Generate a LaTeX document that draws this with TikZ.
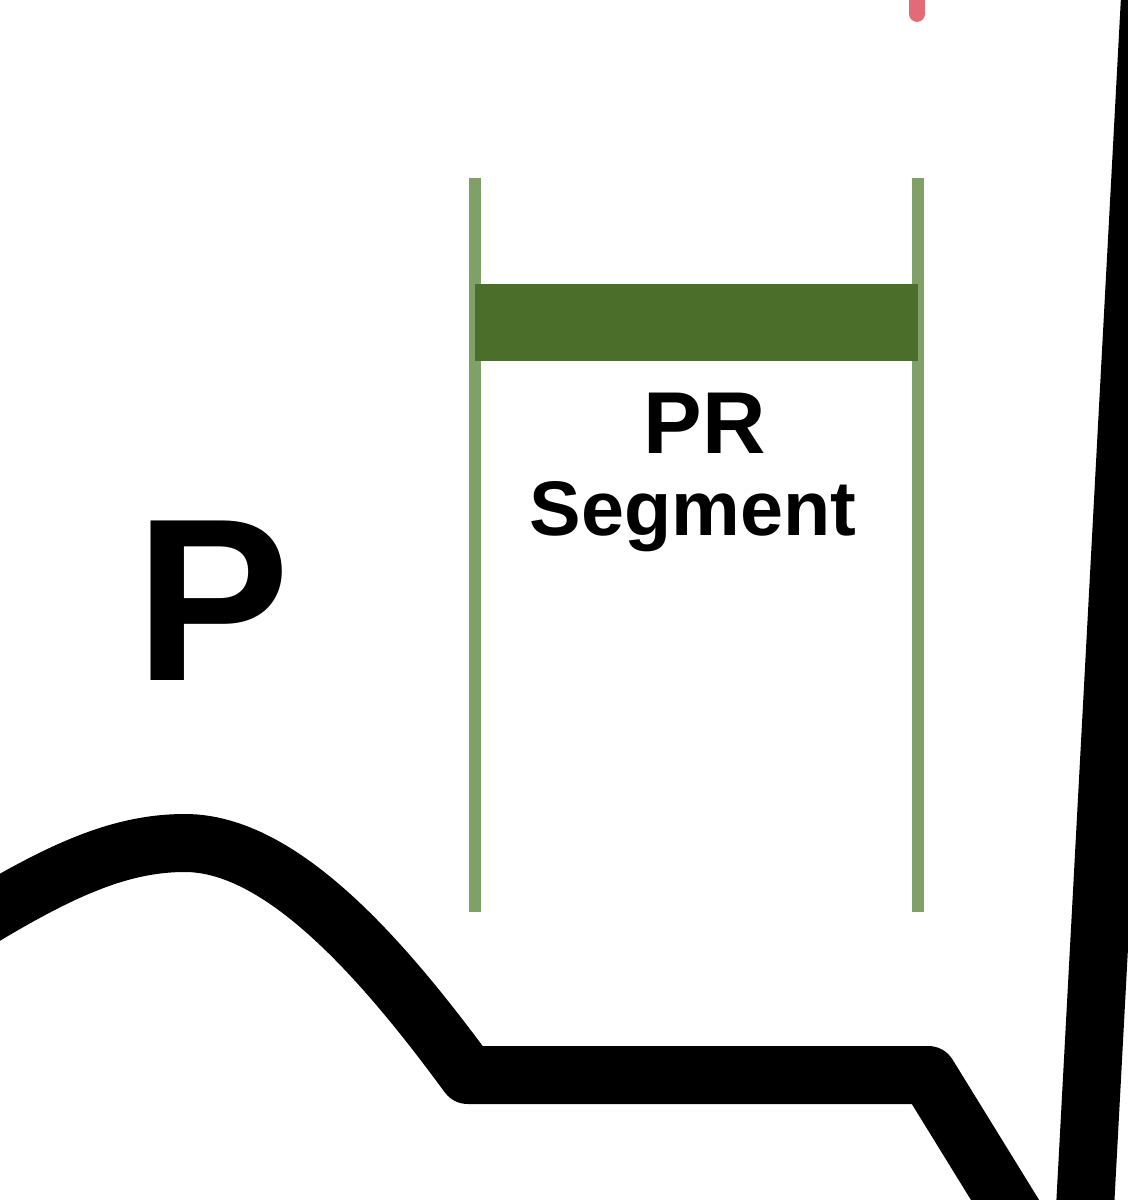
\documentclass[tikz,border=0pt]{standalone}
\usepackage{fontspec}
\setmainfont{Liberation Sans}
\definecolor{prgreen}{RGB}{75,111,43}
\definecolor{prline}{RGB}{127,161,103}
\definecolor{qtred}{RGB}{228,106,120}
\begin{document}
\begin{tikzpicture}[yscale=-1]

    \begin{scope}[x=0.1mm,y=0.1mm]
    \useasboundingbox (0,0) rectangle (1128,1200);
    \clip (0,0) rectangle (1128,1200);
    \draw[black,line width=16.5pt,line join=round](-30,925) .. controls (60,870) and (120,843) .. (185,843) .. controls (280,843) and (380,955) .. (468,1075) -- (928,1075) -- (1079,1320) -- (1152,-40);

    \draw[prline,line width=3.6pt] (475,178) -- (475,912);
    \draw[prline,line width=3.6pt] (918,178) -- (918,912);
    \fill[prgreen] (475,284) rectangle (918,361);
    \draw[qtred,line width=4.5pt,line cap=round] (917,-20) -- (917,14);

    \node[font=\bfseries\fontsize{66}{70}\selectfont,anchor=base,inner sep=0pt] (plabel) at (213,680) {P};
    \node[font=\bfseries\fontsize{25}{28}\selectfont,anchor=base,inner sep=0pt] (prlabel) at (705,453) {PR};
    \node[font=\bfseries\fontsize{22}{25}\selectfont,anchor=base,inner sep=0pt] (seglabel) at (693,535) {Segment};
    \end{scope}
\end{tikzpicture}
\end{document}
